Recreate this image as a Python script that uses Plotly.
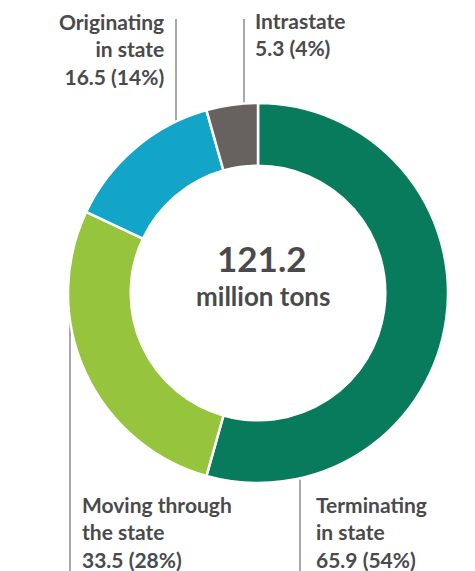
import plotly.graph_objects as go

# ---- data ----
categories = ["Terminating in state", "Moving through the state", "Originating in state", "Intrastate"]
label_lines = [["Terminating", "in state"], ["Moving through", "the state"], ["Originating", "in state"], ["Intrastate"]]
values = [65.9, 33.5, 16.5, 5.3]
colors = ["#077B5C", "#96C43C", "#12A5C7", "#67625F"]
total_label = "121.2"
unit_label = "million tons"

total = sum(values)
W, H = 475, 571
TEXT = "#4A4A4C"
FONT = "Lato"


def px(x):
    return x / W


def py(y):
    return 1 - y / H


fig = go.Figure()
fig.add_trace(go.Pie(
    labels=categories,
    values=values,
    marker=dict(colors=colors, line=dict(color="white", width=2.5)),
    hole=0.67,
    sort=False,
    direction="clockwise",
    rotation=0,
    textinfo="none",
    showlegend=False,
    domain=dict(x=[px(60), px(440)], y=[py(475), py(95)]),
))

annotations = []


def add_text(text, x, y, size, anchor):
    annotations.append(dict(
        text=text, x=px(x), y=py(y), xref="paper", yref="paper",
        xanchor=anchor, yanchor="middle", align=anchor if anchor != "center" else "center",
        showarrow=False,
        font=dict(family=FONT, size=size, color=TEXT, weight=700),
    ))


def block(i):
    return "<br>".join(label_lines[i] + [f"{values[i]} ({round(100 * values[i] / total)}%)"])


LS = 21  # label font size
add_text(block(2), 158, 41, LS, "right")    # Originating
add_text(block(3), 245, 26, LS, "left")     # Intrastate
add_text(block(1), 72, 524, LS, "left")     # Moving through
add_text(block(0), 306, 524, LS, "left")    # Terminating

# center
add_text(total_label, 254, 250, 35, "center")
add_text(unit_label, 255, 288, 26, "center")

LINE = dict(color="#7A7A7A", width=1.3)
shapes = [
    dict(type="line", xref="paper", yref="paper", x0=px(168), x1=px(168), y0=py(11), y1=py(117), line=LINE, layer="below"),
    dict(type="line", xref="paper", yref="paper", x0=px(236), x1=px(236), y0=py(11), y1=py(98), line=LINE, layer="below"),
    dict(type="line", xref="paper", yref="paper", x0=px(62), x1=px(62), y0=py(308), y1=py(571), line=LINE, layer="below"),
    dict(type="line", xref="paper", yref="paper", x0=px(292), x1=px(292), y0=py(466), y1=py(571), line=LINE, layer="below"),
]

fig.update_layout(
    width=W, height=H,
    margin=dict(l=0, r=0, t=0, b=0),
    paper_bgcolor="white", plot_bgcolor="white",
    annotations=annotations, shapes=shapes,
)

fig.write_html("out.html")
